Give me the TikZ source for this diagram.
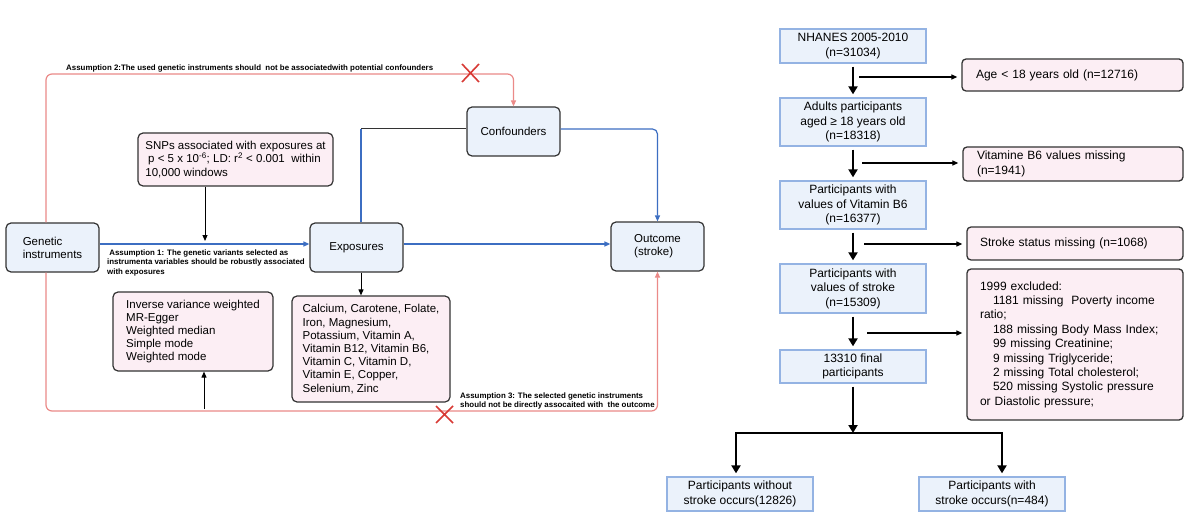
\documentclass[tikz,border=0pt]{standalone}
\usepackage{fontspec}
\setmainfont{Liberation Sans}
\usetikzlibrary{arrows.meta}
\definecolor{lblue}{HTML}{EBF2FB}
\definecolor{lpink}{HTML}{FCEEF4}
\definecolor{bline}{HTML}{3C6EC2}
\definecolor{rline}{HTML}{EB8A88}
\definecolor{xred}{HTML}{D83A35}
\definecolor{rborder}{HTML}{94B3E3}
\definecolor{dborder}{HTML}{333333}
\begin{document}
\begin{tikzpicture}[x=1pt,y=-1pt,
  lbox/.style={draw=dborder,line width=1.2pt,rounded corners=5pt,fill=lblue,align=left,inner sep=0pt,
     font=\fontsize{11.5}{13.2}\selectfont},
  pbox/.style={lbox,fill=lpink},
  rbox/.style={draw=rborder,line width=1.3pt,fill=lblue,align=center,inner sep=0pt,
     font=\fontsize{12}{14.4}\selectfont},
  rpbox/.style={draw=dborder,line width=1.3pt,rounded corners=4pt,fill=lpink,align=left,inner sep=0pt,
     font=\fontsize{12}{14.4}\selectfont},
  alabel/.style={inner sep=0pt,align=left,font=\bfseries\fontsize{7.9}{9.4}\selectfont},
  bluearr/.style={draw=bline,line width=1.2pt,-{Triangle[length=6pt,width=5pt]}},
  redarr/.style={draw=rline,line width=1.2pt,rounded corners=6pt,-{Triangle[length=6pt,width=5pt]}},
  thinarr/.style={draw=black,line width=1pt,-{Triangle[length=6pt,width=5pt]}},
  thickarr/.style={draw=black,line width=2pt,-{Triangle[length=8pt,width=9pt]}},
  xmark/.style={draw=xred,line width=1.6pt}
]
\useasboundingbox (0,0) rectangle (1200,532);
\fill[white] (0,0) rectangle (1200,532);

% ---------------- left diagram ----------------
\node[lbox,minimum width=93pt,minimum height=49pt] (gen) at (52.5,247.5) {Genetic\\instruments};
\node[lbox,minimum width=93pt,minimum height=49pt] (exp) at (356.5,247.5) {Exposures};
\node[lbox,minimum width=93pt,minimum height=49pt] (conf) at (513.5,131.5) {Confounders};
\node[lbox,minimum width=93pt,minimum height=49pt] (out) at (657.5,246.5) {Outcome\\(stroke)};
\node[pbox,minimum width=195pt,minimum height=53pt] (snps) at (235.5,159.5)
  {SNPs associated with exposures at\\\hspace*{0.25em}p < 5 x 10\textsuperscript{-6}; LD: r\textsuperscript{2} < 0.001\ \ within\\10,000 windows};
\node[pbox,minimum width=160pt,minimum height=79pt] (ivw) at (193,331.5)
  {Inverse variance weighted\\MR-Egger\\Weighted median\\Simple mode\\Weighted mode};
\node[pbox,minimum width=158pt,minimum height=106pt] (nutr) at (371,349)
  {Calcium, Carotene, Folate,\\Iron, Magnesium,\\Potassium, Vitamin A,\\Vitamin B12, Vitamin B6,\\Vitamin C, Vitamin D,\\Vitamin E, Copper,\\Selenium, Zinc};

% assumption 1 : blue arrow
\coordinate (ly) at (0,244);
\draw[bluearr] (gen.east |- ly) -- (exp.west |- ly);
\coordinate (snpend) at (205,241);
\draw[thinarr] (snps.south -| snpend) -- (snpend);
% exposures -> outcome
\draw[bluearr] (exp.east |- ly) -- (out.west |- ly);
% exposures -> confounders
\coordinate (ec) at (361,129);
\draw[draw=bline,line width=1.2pt] (exp.north -| ec) -- (ec);
\draw[draw=black!80,line width=1pt] (ec) -- (conf.west |- ec);
% confounders -> outcome
\draw[bluearr,rounded corners=5pt] (conf.east |- ec) -| (out.north);
% exposures -> nutrients
\draw[thinarr] (exp.south -| ec) -- (nutr.north -| ec);
% assumption 2 (red top)
\coordinate (rl) at (46,74);
\draw[redarr] (gen.north -| rl) -- (rl) -| (conf.north);
% assumption 3 (red bottom)
\coordinate (rb) at (46,411);
\draw[redarr] (gen.south -| rb) -- (rb) -| (out.south);
% arrow up to methods
\coordinate (ivwst) at (204,409);
\draw[thinarr] (ivwst) -- (ivw.south -| ivwst);
% red crosses
\coordinate (x1) at (470.5,73);
\coordinate (x2) at (444.5,414.5);
\draw[xmark] ([shift={(-8.5,-9)}]x1) -- ([shift={(8.5,9)}]x1) ([shift={(-8.5,9)}]x1) -- ([shift={(8.5,-9)}]x1);
\draw[xmark] ([shift={(-8.5,-8.5)}]x2) -- ([shift={(8.5,8.5)}]x2) ([shift={(-8.5,8.5)}]x2) -- ([shift={(8.5,-8.5)}]x2);
% labels
\node[alabel,anchor=base west] (a2) at (66,70.5) {Assumption 2:The used genetic instruments should\ \ not be associatedwith potential confounders};
\node[alabel,anchor=north west] (a1) at (107,249.5) {\ Assumption 1: The genetic variants selected as\\instrumenta variables should be robustly associated\\with exposures};
\node[alabel,anchor=north west] (a3) at (460,392.5) {Assumption 3: The selected genetic instruments\\should not be directly assocaited with\ \ the outcome};

% ---------------- right diagram ----------------
\node[rbox,minimum width=146pt,minimum height=34pt] (nh) at (853,46) {NHANES 2005-2010\\(n=31034)};
\node[rbox,minimum width=146pt,minimum height=48pt] (ad) at (853,122) {Adults participants\\aged ≥ 18 years old\\(n=18318)};
\node[rbox,minimum width=146pt,minimum height=48pt] (vb) at (853,205) {Participants with\\values of Vitamin B6\\(n=16377)};
\node[rbox,minimum width=146pt,minimum height=49pt] (sv) at (853,288.5) {Participants with\\values of stroke\\(n=15309)};
\node[rbox,minimum width=146pt,minimum height=33pt] (fin) at (853,366.5) {13310 final\\participants};
\node[rbox,minimum width=146pt,minimum height=34pt] (wo) at (740,494) {Participants without\\stroke occurs(12826)};
\node[rbox,minimum width=146pt,minimum height=34pt] (wi) at (992,494) {Participants with\\stroke occurs(n=484)};

\node[rpbox,minimum width=221pt,minimum height=32pt,text width=193pt] (age) at (1072.5,75) {Age < 18 years old (n=12716)};
\node[rpbox,minimum width=220pt,minimum height=34pt,text width=192pt] (vm) at (1073,164) {Vitamine B6 values missing\\(n=1941)};
\node[rpbox,minimum width=216pt,minimum height=33pt,text width=190pt] (sm) at (1075,243.5) {Stroke status missing (n=1068)};
\node[rpbox,minimum width=216pt,minimum height=151pt,text width=190pt] (ex) at (1075,344.5)
  {1999 excluded:\\\hspace*{13pt}1181 missing\ \ Poverty income\\ratio;\\\hspace*{13pt}188 missing Body Mass Index;\\\hspace*{13pt}99 missing Creatinine;\\\hspace*{13pt}9 missing Triglyceride;\\\hspace*{13pt}2 missing Total cholesterol;\\\hspace*{13pt}520 missing Systolic pressure\\or Diastolic pressure;};

\draw[thickarr,shorten <=3pt,shorten >=3pt] (nh) -- (ad);
\draw[thickarr,shorten <=3pt,shorten >=3pt] (ad) -- (vb);
\draw[thickarr,shorten <=3pt,shorten >=3pt] (vb) -- (sv);
\draw[thickarr,shorten <=3pt,shorten >=3pt] (sv) -- (fin);

\coordinate (s1) at (859,77);
\coordinate (s2) at (862,163);
\coordinate (s3) at (864,244);
\coordinate (s4) at (867,333);
\draw[thinarr,line width=1.2pt,shorten >=4pt] (s1) -- (age.west |- s1);
\draw[thinarr,line width=1.2pt,shorten >=4pt] (s2) -- (vm.west |- s2);
\draw[thinarr,line width=1.2pt,shorten >=4pt] (s3) -- (sm.west |- s3);
\draw[thinarr,line width=1.2pt,shorten >=4pt] (s4) -- (ex.west |- s4);

\coordinate (split) at (853,433);
\coordinate (bl) at (736,433);
\coordinate (br) at (1002,433);
\draw[thickarr,shorten <=3pt] (fin.south) -- (split);
\draw[line width=2pt] (bl) -- (br);
\draw[thickarr,shorten >=3pt] ([yshift=1pt]bl) -- (wo.north -| bl);
\draw[thickarr,shorten >=3pt] ([yshift=1pt]br) -- (wi.north -| br);
\end{tikzpicture}
\end{document}
